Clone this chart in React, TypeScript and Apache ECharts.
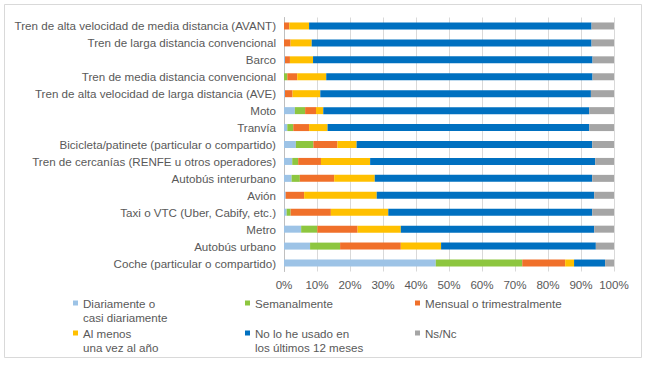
import React, { useEffect, useRef } from "react";
import * as echarts from "echarts";

const categories = [
  "Tren de alta velocidad de media distancia (AVANT)",
  "Tren de larga distancia convencional",
  "Barco",
  "Tren de media distancia convencional",
  "Tren de alta velocidad de larga distancia (AVE)",
  "Moto",
  "Tranvía",
  "Bicicleta/patinete (particular o compartido)",
  "Tren de cercanías (RENFE u otros operadores)",
  "Autobús interurbano",
  "Avión",
  "Taxi o VTC (Uber, Cabify, etc.)",
  "Metro",
  "Autobús urbano",
  "Coche (particular o compartido)",
];

const diario = [0, 0, 0.3, 0, 0.3, 3.3, 1, 3.6, 2.5, 2.3, 0.5, 0.8, 5.2, 7.9, 46];
const semanal = [0, 0, 0, 1, 0, 3.1, 1.8, 5.3, 1.8, 2.5, 0, 1.2, 4.9, 9.1, 26.2];
const mensual = [1.6, 2, 1.5, 3, 2.3, 3.3, 4.8, 7.3, 6.9, 10.4, 5.6, 12.2, 12.2, 18.4, 13];
const anual = [6, 6.4, 7, 8.8, 8.4, 2.2, 5.6, 5.8, 14.9, 12.3, 22, 17.4, 13.1, 12.2, 2.7];
const noUsado = [85.6, 84.8, 84.7, 80.7, 82, 80.6, 79.3, 71.4, 68.2, 65.9, 65.9, 61.8, 58.6, 46.9, 9.4];
const nsnc = [6.8, 6.8, 6.5, 6.5, 7, 7.5, 7.5, 6.6, 5.7, 6.6, 6, 6.6, 6, 5.5, 2.7];

const seriesNames = [
  "Diariamente o casi diariamente",
  "Semanalmente",
  "Mensual o trimestralmente",
  "Al menos una vez al año",
  "No lo he usado en los últimos 12 meses",
  "Ns/Nc",
];
const legendLabels = [
  "Diariamente o\ncasi diariamente",
  "Semanalmente",
  "Mensual o trimestralmente",
  "Al menos\nuna vez al año",
  "No lo he usado en\nlos últimos 12 meses",
  "Ns/Nc",
];
const seriesData = [diario, semanal, mensual, anual, noUsado, nsnc];
const colors = ["#9DC3E6", "#8DC63F", "#F0702A", "#FFC000", "#0070C0", "#A5A5A5"];
const xTicks = [0, 10, 20, 30, 40, 50, 60, 70, 80, 90, 100];

const FONT = "'Liberation Sans', Arial, sans-serif";
const TXT = "#595959";
const FS = 11.6;

export default function App() {
  const ref = useRef<HTMLDivElement>(null);
  useEffect(() => {
    if (!ref.current) return;
    const chart = echarts.init(ref.current, undefined, { renderer: "svg" });
    // first line of row 1 at y=303, row 2 at y=333
    const legendPos = [
      { left: 73, row: 0 },
      { left: 245, row: 0 },
      { left: 415, row: 0 },
      { left: 73, row: 1 },
      { left: 245, row: 1 },
      { left: 415, row: 1 },
    ];
    chart.setOption({
      animation: false,
      backgroundColor: "#ffffff",
      textStyle: { fontFamily: FONT },
      graphic: [
        {
          type: "rect",
          shape: { x: 4.5, y: 4.5, width: 637, height: 353 },
          style: { fill: "none", stroke: "#d9d9d9", lineWidth: 1 },
          silent: true,
        },
      ],
      grid: { left: 284, right: 36, top: 17.5, height: 254, containLabel: false },
      xAxis: {
        type: "value",
        min: xTicks[0],
        max: xTicks[xTicks.length - 1],
        interval: 10,
        axisLine: { show: false },
        axisTick: { show: false },
        splitLine: { show: true, lineStyle: { color: "#d9d9d9", width: 1 } },
        axisLabel: { formatter: "{value}%", color: TXT, fontSize: FS, fontFamily: FONT, margin: 7 },
      },
      yAxis: {
        type: "category",
        data: categories,
        inverse: true,
        axisLine: { show: true, lineStyle: { color: "#bfbfbf" } },
        axisTick: { show: false },
        axisLabel: { color: TXT, fontSize: FS, fontFamily: FONT, margin: 8 },
      },
      legend: seriesNames.map((n, i) => {
        const multi = legendLabels[i].includes("\n");
        const lineY = legendPos[i].row === 0 ? 303 : 333;
        return {
          data: [n],
          left: legendPos[i].left,
          top: multi ? lineY - 21 : lineY - 7,
          padding: 0,
          icon: "rect",
          itemWidth: 5,
          itemHeight: 5,
          selectedMode: false,
          formatter: () => (multi ? "\n" + legendLabels[i] : legendLabels[i]),
          textStyle: {
            color: TXT,
            fontSize: FS,
            fontFamily: FONT,
            lineHeight: 14,
          },
        };
      }),
      series: seriesNames.map((n, i) => ({
        name: n,
        type: "bar",
        stack: "total",
        barWidth: 7,
        itemStyle: { color: colors[i] },
        data: seriesData[i],
      })),
    });
    return () => chart.dispose();
  }, []);
  return (
    <div
      ref={ref}
      style={{ position: "fixed", left: 0, top: 0, width: 650, height: 367, background: "#fff" }}
    />
  );
}
